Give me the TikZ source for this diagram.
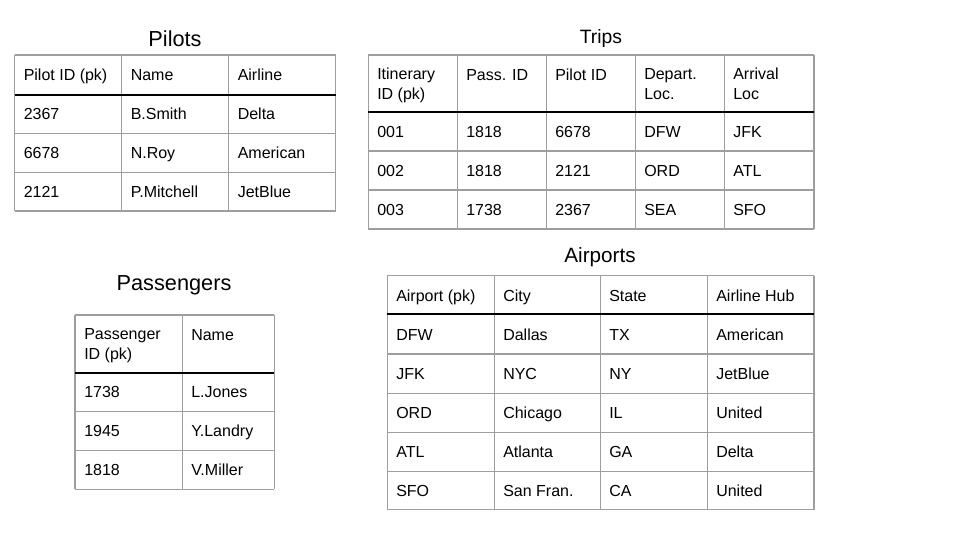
\documentclass[tikz,border=0pt]{standalone}
\usepackage{fontspec}
\setmainfont{Liberation Sans}
\definecolor{gridgray}{HTML}{9E9E9E}
\tikzset{
  cell/.style={anchor=base west, inner sep=0pt, font=\fontsize{12}{14.5}\selectfont, align=left},
  ttl/.style={anchor=base, inner sep=0pt, font=\fontsize{16.3}{19}\selectfont},
  gridline/.style={draw=gridgray, line width=0.8pt},
  headline/.style={draw=black, line width=1.5pt},
}
\begin{document}
\begin{tikzpicture}[x=0.75pt, y=-0.75pt]
\useasboundingbox (0,0) rectangle (960,540);
\fill[white] (0,0) rectangle (960,540);

% ---------------- Pilots ----------------
\node[ttl] (pilots-title) at (175,46) {Pilots};
\foreach \x in {14.7,121.7,228.7,335.7} \draw[gridline] (\x,55) -- (\x,211);
\foreach \y in {55,133.5,172.5,211} \draw[gridline] (14.7,\y) -- (335.7,\y);
\draw[headline] (14.7,94.5) -- (335.7,94.5);
\node[cell] (p-h1) at (23.5,80) {Pilot ID (pk)};
\node[cell] (p-h2) at (130.5,80) {Name};
\node[cell] (p-h3) at (237.5,80) {Airline};
\node[cell] (p-11) at (23.5,119.3) {2367};
\node[cell] (p-12) at (130.5,119.3) {B.Smith};
\node[cell] (p-13) at (237.5,119.3) {Delta};
\node[cell] (p-21) at (23.5,158.3) {6678};
\node[cell] (p-22) at (130.5,158.3) {N.Roy};
\node[cell] (p-23) at (237.5,158.3) {American};
\node[cell] (p-31) at (23.5,197.3) {2121};
\node[cell] (p-32) at (130.5,197.3) {P.Mitchell};
\node[cell] (p-33) at (237.5,197.3) {JetBlue};

% ---------------- Trips ----------------
\node[ttl, font=\fontsize{14.5}{17}\selectfont] (trips-title) at (601,43.3) {Trips};
\foreach \x in {368.3,457.3,546.3,635.3,724.3,814} \draw[gridline] (\x,55) -- (\x,229);
\foreach \y in {55,151,190,229} \draw[gridline] (368.3,\y) -- (814,\y);
\draw[headline] (368.3,112.3) -- (814,112.3);
\node[cell] (t-h1) at (377,99.3) {Itinerary\\ID (pk)};
\node[cell] (t-h2) at (466,80) {Pass. ID};
\node[cell] (t-h3) at (555,80) {Pilot ID};
\node[cell] (t-h4) at (644,99.3) {Depart.\\Loc.};
\node[cell] (t-h5) at (733,99.3) {Arrival\\Loc};
\node[cell] (t-11) at (377,137) {001};
\node[cell] (t-12) at (466,137) {1818};
\node[cell] (t-13) at (555,137) {6678};
\node[cell] (t-14) at (644,137) {DFW};
\node[cell] (t-15) at (733,137) {JFK};
\node[cell] (t-21) at (377,176) {002};
\node[cell] (t-22) at (466,176) {1818};
\node[cell] (t-23) at (555,176) {2121};
\node[cell] (t-24) at (644,176) {ORD};
\node[cell] (t-25) at (733,176) {ATL};
\node[cell] (t-31) at (377,215) {003};
\node[cell] (t-32) at (466,215) {1738};
\node[cell] (t-33) at (555,215) {2367};
\node[cell] (t-34) at (644,215) {SEA};
\node[cell] (t-35) at (733,215) {SFO};

% ---------------- Passengers ----------------
\node[ttl] (pass-title) at (174,290) {Passengers};
\foreach \x in {75,182.3,274.3} \draw[gridline] (\x,315) -- (\x,489.3);
\foreach \y in {315,411.3,450.3,489.3} \draw[gridline] (75,\y) -- (274.3,\y);
\draw[headline] (75,372.7) -- (274.3,372.7);
\node[cell] (s-h1) at (84,359.3) {Passenger\\ID (pk)};
\node[cell] (s-h2) at (191,340) {Name};
\node[cell] (s-11) at (84,397) {1738};
\node[cell] (s-12) at (191,397) {L.Jones};
\node[cell] (s-21) at (84,436) {1945};
\node[cell] (s-22) at (191,436) {Y.Landry};
\node[cell] (s-31) at (84,475) {1818};
\node[cell] (s-32) at (191,475) {V.Miller};

% ---------------- Airports ----------------
\node[ttl, font=\fontsize{15.5}{18}\selectfont] (air-title) at (600,262) {Airports};
\foreach \x in {387.3,494.3,600.3,707.3,814} \draw[gridline] (\x,275.7) -- (\x,509.7);
\foreach \y in {275.7,354,393.3,432.3,471.3,509.7} \draw[gridline] (387.3,\y) -- (814,\y);
\draw[headline] (387.3,314) -- (814,314);
\node[cell] (a-h1) at (396,301) {Airport (pk)};
\node[cell] (a-h2) at (503,301) {City};
\node[cell] (a-h3) at (609,301) {State};
\node[cell] (a-h4) at (716,301) {Airline Hub};
\node[cell] (a-11) at (396,340) {DFW};
\node[cell] (a-12) at (503,340) {Dallas};
\node[cell] (a-13) at (609,340) {TX};
\node[cell] (a-14) at (716,340) {American};
\node[cell] (a-21) at (396,379) {JFK};
\node[cell] (a-22) at (503,379) {NYC};
\node[cell] (a-23) at (609,379) {NY};
\node[cell] (a-24) at (716,379) {JetBlue};
\node[cell] (a-31) at (396,418) {ORD};
\node[cell] (a-32) at (503,418) {Chicago};
\node[cell] (a-33) at (609,418) {IL};
\node[cell] (a-34) at (716,418) {United};
\node[cell] (a-41) at (396,457) {ATL};
\node[cell] (a-42) at (503,457) {Atlanta};
\node[cell] (a-43) at (609,457) {GA};
\node[cell] (a-44) at (716,457) {Delta};
\node[cell] (a-51) at (396,496) {SFO};
\node[cell] (a-52) at (503,496) {San Fran.};
\node[cell] (a-53) at (609,496) {CA};
\node[cell] (a-54) at (716,496) {United};
\end{tikzpicture}
\end{document}
